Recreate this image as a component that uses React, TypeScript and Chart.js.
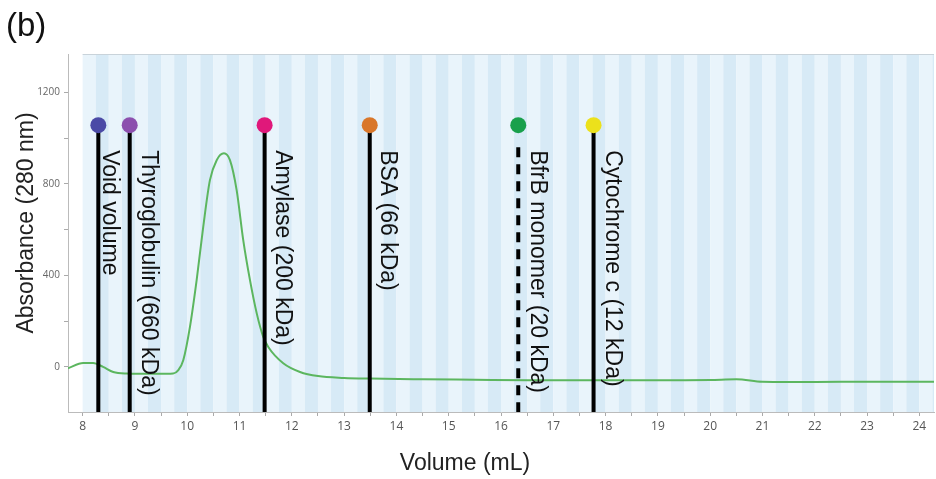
import React, { useEffect, useRef } from "react";
import { Chart, registerables } from "chart.js";

Chart.register(...registerables);

// ---- Chromatogram trace (Volume in mL, Absorbance at 280 nm) ----
const volume = [
  7.72, 8.01, 8.2, 8.39, 8.585, 8.84, 9.1, 9.4, 9.6, 9.73, 9.83, 9.924, 10.052, 10.18,
  10.306, 10.434, 10.563, 10.702, 10.817, 10.945, 11.071, 11.2, 11.328, 11.454, 11.55,
  11.836, 12.156, 12.5, 13.0, 13.5, 14.5, 15.5, 16.5, 17.5, 18.5, 19.5, 20.0, 20.5,
  21.0, 21.5, 22.5, 23.5, 24.28,
];
const absorbance = [
  -6, 17, 17, 0, -22, -29, -30, -30, -30, -29, -14, 29, 175, 379,
  612, 816, 903, 933, 903, 772, 554, 379, 235, 131, 87,
  16, -22, -40, -48, -51, -54, -56, -58, -58, -58, -58, -57, -54,
  -65, -66, -65, -65, -65,
];

// ---- Calibration markers ----
const markerNames = [
  "Void volume",
  "Thyroglobulin (660 kDa)",
  "Amylase (200 kDa)",
  "BSA (66 kDa)",
  "BfrB monomer (20 kDa)",
  "Cytochrome c (12 kDa)",
];
const markerVolumes = [8.3, 8.9, 11.48, 13.49, 16.33, 17.77];
const markerColors = ["#4b4aa6", "#8c4fae", "#e0187a", "#d9772a", "#19a04c", "#ece11b"];
const markerDashed = [false, false, false, false, true, false];
const markerDotLevel = 1056;
const dashedLineTop = 960;
const labelTopLevel = 947;
const labelGaps = [5, 12, 11, 11, 13, 12];

// ---- Axes ----
const xMin = 7.72;
const xMax = 24.28;
const yMin = -197;
const yMax = 1367;
const xTickValues = [
  8, 8.5, 9, 9.5, 10, 10.5, 11, 11.5, 12, 12.5, 13, 13.5, 14, 14.5, 15, 15.5, 16,
  16.5, 17, 17.5, 18, 18.5, 19, 19.5, 20, 20.5, 21, 21.5, 22, 22.5, 23, 23.5, 24,
];
const xLabelValues = [8, 9, 10, 11, 12, 13, 14, 15, 16, 17, 18, 19, 20, 21, 22, 23, 24];
const yTickValues = [0, 200, 400, 600, 800, 1000, 1200];
const yLabelValues = [0, 400, 800, 1200];

const stripeStart = 8;
const stripeWidth = 0.25;

const panelLabel = "(b)";
const xTitle = "Volume (mL)";
const yTitle = "Absorbance (280 nm)";

const LABEL_FONT = '23px "Liberation Sans", Arial, sans-serif';

const decorPlugin = {
  id: "decor",
  beforeDraw(chart: any) {
    const { ctx, chartArea: ca, scales } = chart;
    const x = scales.x;
    ctx.save();
    ctx.fillStyle = "#ffffff";
    ctx.fillRect(0, 0, chart.width, chart.height);
    let i = 0;
    for (let v = stripeStart; v < xMax; v += stripeWidth, i++) {
      const a = x.getPixelForValue(v);
      const b = Math.min(x.getPixelForValue(v + stripeWidth), ca.right);
      ctx.fillStyle = i % 2 === 0 ? "#e9f4fb" : "#d7eaf6";
      ctx.fillRect(a, ca.top, b - a, ca.bottom - ca.top);
    }
    const s = x.getPixelForValue(stripeStart);
    ctx.strokeStyle = "#c9d3da";
    ctx.lineWidth = 1;
    ctx.beginPath();
    ctx.moveTo(s, ca.top + 0.5);
    ctx.lineTo(ca.right, ca.top + 0.5);
    ctx.stroke();
    ctx.restore();
  },
  afterDraw(chart: any) {
    const { ctx, scales } = chart;
    const x = scales.x;
    const y = scales.y;
    ctx.save();
    // marker labels
    ctx.font = LABEL_FONT;
    ctx.fillStyle = "#111111";
    ctx.textAlign = "left";
    ctx.textBaseline = "alphabetic";
    markerNames.forEach((name, i) => {
      const px = x.getPixelForValue(markerVolumes[i]) + labelGaps[i];
      const py = y.getPixelForValue(labelTopLevel);
      ctx.save();
      ctx.translate(px, py);
      ctx.rotate(Math.PI / 2);
      ctx.fillText(name, 0, 0);
      ctx.restore();
    });
    // axis titles
    ctx.fillStyle = "#222222";
    ctx.textAlign = "center";
    ctx.textBaseline = "middle";
    ctx.fillText(xTitle, 465, 464);
    ctx.save();
    ctx.translate(27, 223);
    ctx.rotate(-Math.PI / 2);
    ctx.fillText(yTitle, 0, 0);
    ctx.restore();
    // panel label
    ctx.font = '33px "Liberation Sans", Arial, sans-serif';
    ctx.fillStyle = "#111111";
    ctx.textAlign = "left";
    ctx.textBaseline = "alphabetic";
    ctx.fillText(panelLabel, 6, 36);
    ctx.restore();
  },
};

export default function App() {
  const canvasRef = useRef<HTMLCanvasElement | null>(null);

  useEffect(() => {
    const canvas = canvasRef.current;
    if (!canvas) return;

    const traceData = volume.map((v, i) => ({ x: v, y: absorbance[i] }));

    const markerLineSets = markerVolumes.map((v, i) => ({
      label: markerNames[i] + " line",
      data: [
        { x: v, y: markerDashed[i] ? dashedLineTop : markerDotLevel },
        { x: v, y: yMin },
      ],
      borderColor: "#000000",
      borderWidth: 4,
      borderDash: markerDashed[i] ? [10, 7] : [],
      borderCapStyle: "butt" as const,
      pointRadius: 0,
      fill: false,
      order: 1,
    }));

    const chart = new Chart(canvas, {
      type: "line",
      data: {
        datasets: [
          {
            label: "Absorbance",
            data: traceData,
            borderColor: "#5cb65f",
            borderWidth: 2,
            pointRadius: 0,
            cubicInterpolationMode: "monotone",
            fill: false,
            order: 3,
          },
          ...markerLineSets,
          {
            label: "Markers",
            data: markerVolumes.map((v) => ({ x: v, y: markerDotLevel })),
            showLine: false,
            pointRadius: 8,
            pointBackgroundColor: markerColors,
            pointBorderWidth: 0,
            order: 0,
          },
        ] as any,
      },
      options: {
        animation: false,
        responsive: false,
        maintainAspectRatio: false,
        devicePixelRatio: 1,
        layout: { autoPadding: false, padding: { top: 54, right: 2, left: 0, bottom: 0 } },
        plugins: {
          legend: { display: false },
          tooltip: { enabled: false },
          title: { display: false },
        },
        scales: {
          x: {
            type: "linear",
            min: xMin,
            max: xMax,
            afterBuildTicks: (scale: any) => {
              scale.ticks = xTickValues.map((v) => ({ value: v }));
            },
            afterFit: (scale: any) => {
              scale.height = 67;
              scale.paddingLeft = 0;
              scale.paddingRight = 0;
            },
            ticks: {
              autoSkip: false,
              maxRotation: 0,
              minRotation: 0,
              padding: 3,
              color: "#555555",
              font: { size: 12, family: '"Open Sans", sans-serif' },
              callback: (v: any) => (xLabelValues.includes(Number(v)) ? String(v) : ""),
            },
            grid: { drawOnChartArea: false, drawTicks: true, tickLength: 4, color: "#aaaaaa" },
            border: { display: true, color: "#bbbbbb" },
          },
          y: {
            type: "linear",
            min: yMin,
            max: yMax,
            afterBuildTicks: (scale: any) => {
              scale.ticks = yTickValues.map((v) => ({ value: v }));
            },
            afterFit: (scale: any) => {
              scale.width = 68;
              scale.paddingTop = 0;
              scale.paddingBottom = 0;
            },
            ticks: {
              padding: 4,
              color: "#666666",
              font: { size: 10, family: '"Open Sans", sans-serif' },
              callback: (v: any) => (yLabelValues.includes(Number(v)) ? String(v) : ""),
            },
            grid: { drawOnChartArea: false, drawTicks: true, tickLength: 4, color: "#aaaaaa" },
            border: { display: true, color: "#bbbbbb" },
          },
        },
      } as any,
      plugins: [decorPlugin],
    });

    return () => {
      chart.destroy();
    };
  }, []);

  return (
    <div style={{ position: "fixed", left: 0, top: 0, width: 936, height: 479, background: "#fff" }}>
      <canvas ref={canvasRef} width={936} height={479} style={{ display: "block", width: 936, height: 479 }} />
    </div>
  );
}
